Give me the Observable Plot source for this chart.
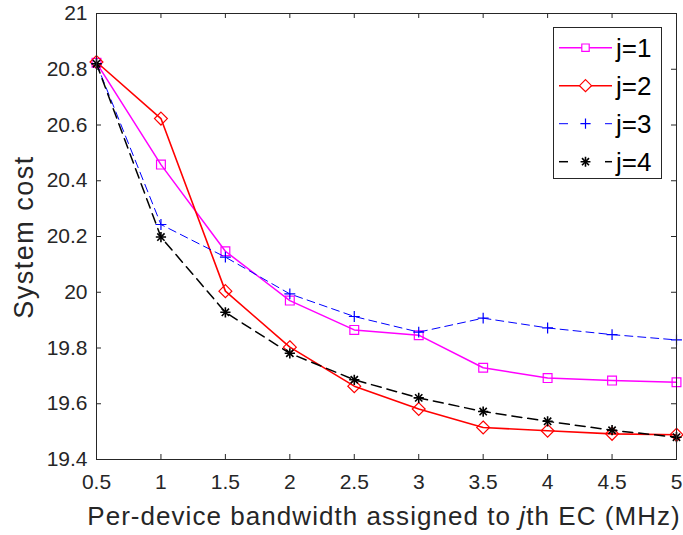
<!DOCTYPE html>
<html><head><meta charset="utf-8">
<script src="https://cdn.jsdelivr.net/npm/d3@7"></script>
<script src="https://cdn.jsdelivr.net/npm/@observablehq/plot@0.6"></script>
<style>body{margin:0;background:#fff} #chart{width:683px;height:535px}</style>
</head><body><div id="chart"></div>
<script>
const bandwidth = [0.5, 1, 1.5, 2, 2.5, 3, 3.5, 4, 4.5, 5];
const costJ1 = [20.823, 20.458, 20.147, 19.970, 19.865, 19.846, 19.729, 19.692, 19.683, 19.677];
const costJ2 = [20.826, 20.623, 20.004, 19.803, 19.663, 19.581, 19.515, 19.503, 19.492, 19.489];
const costJ3 = [20.820, 20.243, 20.126, 19.994, 19.913, 19.857, 19.907, 19.872, 19.848, 19.829];
const costJ4 = [20.820, 20.198, 19.928, 19.781, 19.686, 19.621, 19.572, 19.537, 19.505, 19.480];
const seriesNames = ["j=1", "j=2", "j=3", "j=4"];
const xTicks = [0.5, 1, 1.5, 2, 2.5, 3, 3.5, 4, 4.5, 5];
const xTickLabels = ["0.5", "1", "1.5", "2", "2.5", "3", "3.5", "4", "4.5", "5"];
const yTicks = [19.4, 19.6, 19.8, 20, 20.2, 20.4, 20.6, 20.8, 21];
const yTickLabels = ["19.4", "19.6", "19.8", "20", "20.2", "20.4", "20.6", "20.8", "21"];

const FONT = "'Liberation Sans', Arial, Helvetica, sans-serif";
const AX = "#262626";
const W = 683, H = 535, ML = 96, MR = 7, MT = 13, MB = 76;
const FW = W - ML - MR, FH = H - MT - MB;

const styles = [
  {color: "#ff00ff", width: 1.5, dash: null, symbols: ["square2"], r: 5.6},
  {color: "#ff0000", width: 1.6, dash: null, symbols: ["diamond2"], r: 5.8},
  {color: "#0000ff", width: 1, dash: "8,5", symbols: ["plus"], r: 3.6},
  {color: "#000000", width: 1.5, dash: "10,6", symbols: ["plus", "times"], r: 3.4}
];
const allCosts = [costJ1, costJ2, costJ3, costJ4];
const tables = allCosts.map((vals, i) => bandwidth.map((x, k) => ({x, y: vals[k], s: seriesNames[i]})));

const marks = [];
tables.forEach((t, i) => {
  const st = styles[i];
  marks.push(Plot.line(t, {x: "x", y: "y", stroke: st.color, strokeWidth: st.width, strokeDasharray: st.dash}));
  st.symbols.forEach(sym => {
    marks.push(Plot.dot(t, {x: "x", y: "y", symbol: sym, r: st.r, stroke: st.color, fill: "none", strokeWidth: i === 3 ? 1.6 : 1.2}));
  });
});

const xFmt = d => xTickLabels[xTicks.indexOf(d)];
const yFmt = d => yTickLabels[yTicks.indexOf(d)];

const chart = Plot.plot({
  width: W, height: H,
  marginLeft: ML, marginRight: MR, marginTop: MT, marginBottom: MB,
  style: {fontFamily: FONT, fontSize: "21px", color: AX, background: "#fff", overflow: "visible"},
  x: {domain: [0.5, 5]},
  y: {domain: [19.4, 21]},
  marks: [
    Plot.axisX({ticks: xTicks, tickFormat: xFmt, tickSize: 0, tickPadding: 15, label: null, fontSize: 21}),
    Plot.axisY({ticks: yTicks, tickFormat: yFmt, tickSize: 0, tickPadding: 9, label: null, fontSize: 21}),
    Plot.tickX(xTicks, {x: d => d, insetTop: FH - 5, stroke: AX, strokeWidth: 1}),
    Plot.tickX(xTicks, {x: d => d, insetBottom: FH - 5, stroke: AX, strokeWidth: 1}),
    Plot.tickY(yTicks, {y: d => d, insetRight: FW - 5, stroke: AX, strokeWidth: 1}),
    Plot.tickY(yTicks, {y: d => d, insetLeft: FW - 5, stroke: AX, strokeWidth: 1}),
    ...marks,
    Plot.frame({stroke: AX, strokeWidth: 1})
  ]
});
document.getElementById("chart").appendChild(chart);

const svg = d3.select(chart);
// axis titles
const xl = svg.append("text").attr("x", 384).attr("y", 525).attr("text-anchor", "middle")
  .attr("font-family", FONT).attr("font-size", 26).attr("letter-spacing", "1.05px").attr("fill", AX);
xl.append("tspan").text("Per-device bandwidth assigned to ");
xl.append("tspan").attr("font-style", "italic").text("j");
xl.append("tspan").text("th EC (MHz)");
svg.append("text").attr("transform", "translate(33,237) rotate(-90)").attr("text-anchor", "middle")
  .attr("font-family", FONT).attr("font-size", 27).attr("letter-spacing", "1.5px").attr("fill", AX).text("System cost");

// legend
const lg = svg.append("g");
lg.append("rect").attr("x", 553.5).attr("y", 27.5).attr("width", 108).attr("height", 151)
  .attr("fill", "#fff").attr("stroke", AX).attr("stroke-width", 1);
const legSym = {square2: d3.symbolSquare2, diamond2: d3.symbolDiamond2, plus: d3.symbolPlus, times: d3.symbolTimes};
const legSize = [[70], [92], [36], [34, 34]];
seriesNames.forEach((name, i) => {
  const st = styles[i];
  const cy = 47.7 + i * 38;
  if (st.dash) {
    lg.append("line").attr("x1", 559).attr("x2", 568).attr("y1", cy).attr("y2", cy).attr("stroke", st.color).attr("stroke-width", st.width);
    lg.append("line").attr("x1", 605).attr("x2", 612).attr("y1", cy).attr("y2", cy).attr("stroke", st.color).attr("stroke-width", st.width);
  } else {
    lg.append("line").attr("x1", 559).attr("x2", 612).attr("y1", cy).attr("y2", cy).attr("stroke", st.color).attr("stroke-width", st.width);
  }
  st.symbols.forEach((s, k) => {
    lg.append("path").attr("transform", `translate(585.5,${cy})`)
      .attr("d", d3.symbol(legSym[s], legSize[i][k])())
      .attr("fill", i === 0 || i === 1 ? "#fff" : "none").attr("stroke", st.color).attr("stroke-width", i === 3 ? 1.6 : 1.2);
  });
  lg.append("text").attr("x", 616).attr("y", cy).attr("dy", "0.36em").attr("text-anchor", "start")
    .attr("font-family", FONT).attr("font-size", 26).attr("fill", "#000").text(name);
});
</script>
</body></html>
